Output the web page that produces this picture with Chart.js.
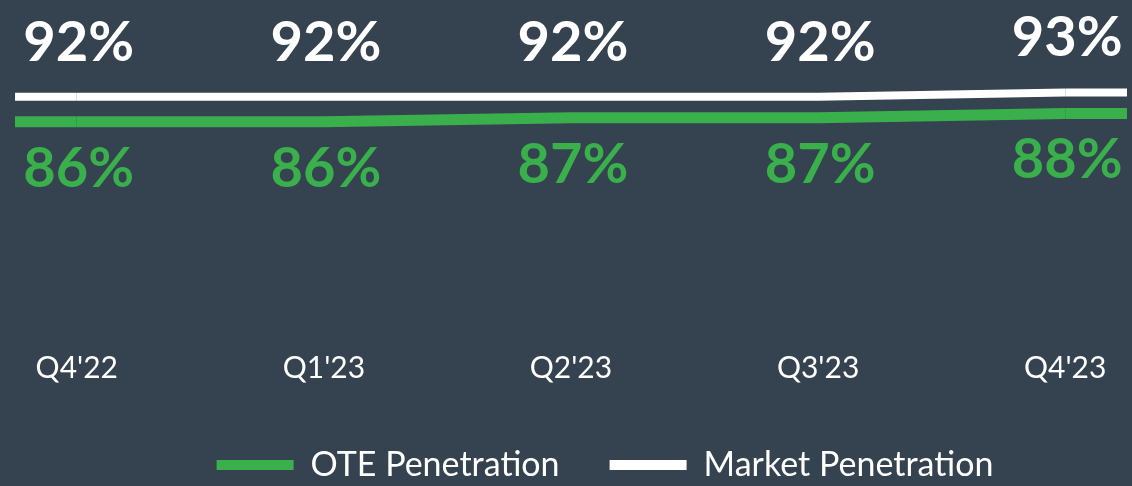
<!DOCTYPE html>
<html>
<head>
<meta charset="utf-8">
<script src="https://cdn.jsdelivr.net/npm/chart.js@4.4.1/dist/chart.umd.min.js"></script>
<style>
  html, body { margin: 0; padding: 0; background: #35424f; }
  #wrap { width: 1132px; height: 486px; }
</style>
</head>
<body>
<div id="wrap"><canvas id="myChart"></canvas></div>
<script>
'use strict';

const quarters = ["Q4'22", "Q1'23", "Q2'23", "Q3'23", "Q4'23"];
const otePenetration = [86, 86, 87, 87, 88];
const marketPenetration = [92, 92, 92, 92, 93];

const green = '#39b04b',
      white = '#ffffff';

Chart.defaults.font.family = 'Lato';

const toPoints = (arr) => arr.map((v, i) => ({ x: i, y: v }));

// the lines run out to the edges of the plot, past the first and last quarter
const extendLines = {
    id: 'extendLines',
    beforeDatasetsDraw(chart) {
        const { ctx, chartArea } = chart;
        chart.data.datasets.forEach((ds, i) => {
            const pts = chart.getDatasetMeta(i).data;
            if (!pts.length) return;
            const first = pts[0], last = pts[pts.length - 1];
            ctx.save();
            ctx.strokeStyle = ds.borderColor;
            ctx.lineWidth = ds.borderWidth;
            ctx.lineCap = 'butt';
            ctx.beginPath();
            ctx.moveTo(chartArea.left, first.y);
            ctx.lineTo(first.x, first.y);
            ctx.moveTo(last.x, last.y);
            ctx.lineTo(chartArea.right, last.y);
            ctx.stroke();
            ctx.restore();
        });
    }
};

const valueLabels = {
    id: 'valueLabels',
    afterDatasetsDraw(chart) {
        const { ctx } = chart;
        chart.data.datasets.forEach((ds, i) => {
            const pts = chart.getDatasetMeta(i).data;
            ctx.save();
            ctx.font = 'bold 56px Lato';
            ctx.fillStyle = ds.borderColor;
            ctx.textAlign = 'center';
            ctx.textBaseline = 'alphabetic';
            pts.forEach((p, j) => {
                ctx.fillText(ds.data[j].y + '%', p.x + 2, p.y + ds.labelOffset);
            });
            ctx.restore();
        });
    }
};

// legend sits a bit right of centre and low, like the slide
const placeLegend = {
    id: 'placeLegend',
    afterLayout(chart) {
        const lg = chart.legend;
        const h = lg.bottom - lg.top;
        lg.left += 34;
        lg.right += 34;
        lg.top = 398;
        lg.bottom = lg.top + h;
    }
};

const myChart = new Chart(document.querySelector('#myChart'), {
    type: 'line',
    data: {
        datasets: [{
            label: 'OTE Penetration',
            data: toPoints(otePenetration),
            borderColor: green,
            backgroundColor: green,
            borderWidth: 11,
            labelOffset: 65
        }, {
            label: 'Market Penetration',
            data: toPoints(marketPenetration),
            borderColor: white,
            backgroundColor: white,
            borderWidth: 8,
            labelOffset: -36
        }]
    },
    options: {
        animation: false,
        responsive: true,
        maintainAspectRatio: false,
        layout: { padding: { left: 15, right: 5, top: 0, bottom: 0 } },
        elements: {
            point: { radius: 0, hoverRadius: 0 },
            line: { tension: 0, borderCapStyle: 'butt' }
        },
        scales: {
            x: {
                type: 'linear',
                min: -0.25,
                max: 4.25,
                afterBuildTicks: (scale) => {
                    scale.ticks = quarters.map((q, i) => ({ value: i }));
                },
                ticks: {
                    color: white,
                    font: { size: 30, lineHeight: 0.93 },
                    padding: 10,
                    maxRotation: 0,
                    autoSkip: false,
                    callback: (v) => quarters[v]
                },
                grid: { display: false },
                border: { display: false }
            },
            y: {
                display: false,
                min: 35,
                max: 115
            }
        },
        plugins: {
            legend: {
                position: 'bottom',
                labels: {
                    color: white,
                    font: { size: 34 },
                    boxWidth: 77,
                    boxHeight: 10,
                    padding: 50,
                    generateLabels: (chart) =>
                        Chart.defaults.plugins.legend.labels.generateLabels(chart)
                            .map(l => Object.assign(l, { lineWidth: 0 }))
                }
            },
            tooltip: { enabled: false }
        }
    },
    plugins: [extendLines, valueLabels, placeLegend]
});
</script>
</body>
</html>
